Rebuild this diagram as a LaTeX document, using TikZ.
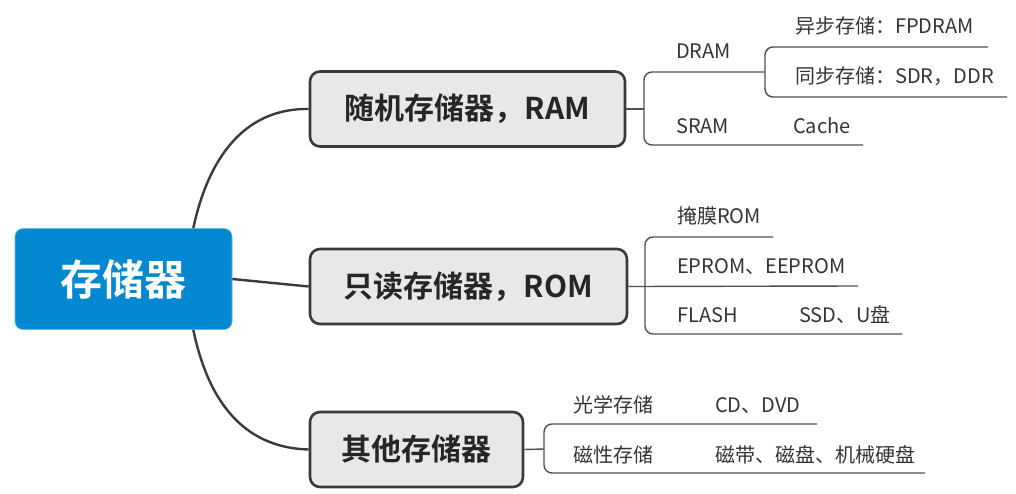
\documentclass[tikz,border=0pt]{standalone}
\usepackage{fontspec}
\setmainfont{Noto Sans CJK SC}[BoldFont=* Bold]
\usepackage{tikz}
\usetikzlibrary{positioning}

\definecolor{rootblue}{HTML}{0288D1}
\definecolor{boxgray}{HTML}{E8E8E8}
\definecolor{edgegray}{HTML}{3A3A3A}
\definecolor{leafgray}{HTML}{505050}
\definecolor{txtgray}{HTML}{333333}

\begin{document}
\begin{tikzpicture}[
  x=1pt, y=-1pt,
  root/.style={fill=rootblue,draw=rootblue!60!white,line width=0.6pt,rounded corners=8pt,
    minimum width=217pt,minimum height=101pt,text=white,font=\fontsize{42}{46}\selectfont\bfseries},
  box/.style={fill=boxgray,draw=edgegray,line width=2.6pt,rounded corners=10pt,
    minimum height=75pt,text=black!85,font=\fontsize{30}{34}\selectfont\bfseries},
  leaf/.style={anchor=base west,inner sep=0pt,text=txtgray,font=\fontsize{20}{24}\selectfont},
  curve/.style={draw=edgegray,line width=2.4pt},
  tie/.style={draw=leafgray,line width=1.4pt,rounded corners=8pt}
]
\useasboundingbox (0,0) rectangle (1016,493);

% main nodes
\node[root] (mem) at (123.5,279) {存储器};
\node[box, minimum width=315pt] (ram) at (467.5,109) {随机存储器，RAM};
\node[box, minimum width=317pt] (rom) at (468.5,286.5) {只读存储器，ROM};
\node[box, minimum width=213pt] (other) at (416.5,449.5) {其他存储器};

% links from root
\draw[curve] ([xshift=-39pt]mem.north east) .. controls (210,150) and (250,108) .. (ram.west);
\draw[curve] ([xshift=-39pt]mem.south east) .. controls (210,410) and (250,448) .. (other.west);
\draw[curve] (mem.east) -- (rom.west);

% RAM branch
\node[leaf] (dram) at (676,58) {DRAM};
\node[leaf] (sram) at (676,133) {SRAM};
\node[leaf] (cache) at (793,133) {Cache};
\node[leaf] (async) at (795,33) {异步存储：FPDRAM};
\node[leaf] (sync) at (795,83) {同步存储：SDR，DDR};
\coordinate (ramtie) at (644,109);
\coordinate (dramend) at (765,72);
\coordinate (sramend) at (863,145);
\coordinate (asyncend) at (988,47);
\coordinate (syncend) at (1007,97);
\draw[tie] (ram.east) -- (ramtie);
\draw[tie] (dramend) -- (ramtie |- dramend) -- (ramtie |- sramend) -- (sramend);
\draw[tie] (asyncend) -- (dramend |- asyncend) -- (dramend |- syncend) -- (syncend);

% ROM branch
\node[leaf] (mask) at (677,223) {掩膜ROM};
\node[leaf] (eprom) at (677,273) {EPROM、EEPROM};
\node[leaf] (flash) at (677,322) {FLASH};
\node[leaf] (ssd) at (799,322) {SSD、U盘};
\coordinate (romtie) at (645,286);
\coordinate (maskend) at (773,237);
\coordinate (epromend) at (858,286);
\coordinate (flashend) at (902,334);
\draw[tie] (rom.east) -- (epromend);
\draw[tie] (maskend) -- (romtie |- maskend) -- (romtie |- flashend) -- (flashend);

% other branch
\node[leaf] (optic) at (573,412) {光学存储};
\node[leaf] (cd) at (715,412) {CD、DVD};
\node[leaf] (magnet) at (573,462) {磁性存储};
\node[leaf] (disk) at (715,462) {磁带、磁盘、机械硬盘};
\coordinate (othertie) at (544,449);
\coordinate (opticend) at (817,424);
\coordinate (magnetend) at (925,473);
\draw[tie] (other.east) -- (othertie);
\draw[tie] (opticend) -- (othertie |- opticend) -- (othertie |- magnetend) -- (magnetend);
\end{tikzpicture}
\end{document}
